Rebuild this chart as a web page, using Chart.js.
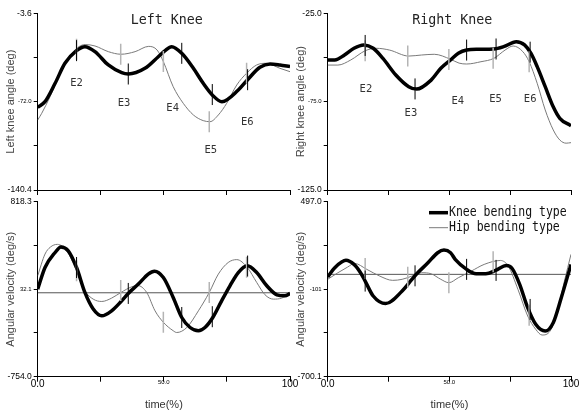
<!DOCTYPE html>
<html>
<head>
<meta charset="utf-8">
<script src="https://cdn.jsdelivr.net/npm/chart.js@4.4.1/dist/chart.umd.min.js"></script>
<style>
  html, body { margin: 0; padding: 0; background: #fff; }
  #wrap { position: relative; width: 583px; height: 412px; }
  #wrap canvas { position: absolute; left: 0; top: 0; }
</style>
</head>
<body>
<div id="wrap">
  <canvas id="lk" width="583" height="412"></canvas>
  <canvas id="rk" width="583" height="412"></canvas>
  <canvas id="lv" width="583" height="412"></canvas>
  <canvas id="rv" width="583" height="412"></canvas>
</div>
<script>
// axis ticks
const timeTicks = [0, 25, 50, 75, 100]
const timeTickLabels = ['0.0', '', '50.0', '', '100']

const leftAngleTicks = [-140.4, -106.2, -72.0, -37.8, -3.6]
const leftAngleLabels = ['-140.4', '', '-72.0', '', '-3.6']
const rightAngleTicks = [-125, -100, -75, -50, -25]
const rightAngleLabels = ['-125.0', '', '-75.0', '', '-25.0']
const leftVelTicks = [-754.0, -360.9, 32.1, 425.2, 818.3]
const leftVelLabels = ['-754.0', '', '32.1', '', '818.3']
const rightVelTicks = [-700.1, -400.8, -101.5, 197.7, 497.0]
const rightVelLabels = ['-700.1', '', '-101', '', '497.0']

const seriesNames = ['Knee bending type', 'Hip bending type']

// events
const eventNames = ['E2', 'E3', 'E4', 'E5', 'E6']
const kneeEventTimes = [15.4, 35.9, 57.1, 69.2, 83.2]
const hipEventTimes = [15.4, 32.9, 49.8, 68.0, 82.8]

// left knee angle
const lkKneeT = [0, 2.9, 6.9, 10.8, 15.4, 18.7, 22.7, 28, 33.3, 35.9, 42.5, 47.8, 50.5, 53.1, 57.1, 61.7, 65.6, 69.2, 73, 79.5, 83.2, 88.1, 92.1, 96, 100]
const lkKneeV = [-76.4, -72.0, -57.8, -42.3, -32.5, -29.4, -33.3, -43.6, -49.6, -50.6, -46.2, -37.2, -32.5, -29.4, -34.6, -46.2, -57.8, -66.8, -72.0, -63.0, -55.0, -45.4, -42.8, -43.6, -44.9]
const lkHipT = [0, 1.6, 4.9, 9.5, 14.1, 18.8, 22.7, 28, 33, 38.6, 44, 47.3, 49.8, 53.7, 57.7, 61.7, 65.6, 68.3, 71.6, 74.9, 78.9, 82.8, 86.8, 90.8, 96, 100]
const lkHipV = [-86.2, -81.0, -68.1, -47.5, -33.3, -27.8, -28.9, -33.3, -35.3, -33.3, -29.2, -32.0, -41.0, -60.4, -73.3, -82.3, -86.7, -87.5, -82.3, -73.3, -59.1, -50.0, -43.6, -42.3, -46.2, -48.8]
const lkKneeMarks = [-32.5, -50.6, -34.6, -66.5, -55.0]
const lkHipMarks = [-31.5, -35.3, -41.0, -87.5, -50.0]
const lkLabelT = [15.4, 34.2, 53.5, 68.6, 83.1]
const lkLabelV = [-57.8, -73.3, -77.1, -109.4, -88.0]

// right knee angle
const rkKneeT = [0, 2.9, 6.9, 10.8, 14.8, 18.7, 22.7, 28, 33.3, 36.6, 42.5, 46.5, 50.5, 53.7, 57.1, 61.7, 68.3, 72.3, 77.5, 80.9, 83.5, 86.1, 89.4, 92.7, 95.4, 100]
const rkKneeV = [-51.4, -51.4, -48.6, -44.8, -42.9, -44.8, -50.5, -59.9, -66.5, -67.9, -62.8, -56.1, -51.4, -47.6, -45.8, -45.4, -45.2, -43.9, -41.1, -42.9, -47.6, -55.2, -66.5, -77.9, -84.4, -88.6]
const rkHipT = [0, 4.2, 9.5, 15.4, 20, 25.4, 33.3, 38.6, 43.8, 50.5, 54, 57.1, 63, 68.3, 72.9, 76.2, 80.2, 82.8, 86.1, 89.4, 92.7, 95.4, 98, 100]
const rkHipV = [-54.3, -54.3, -51.4, -46.2, -44.8, -45.8, -49.2, -48.6, -48.2, -51.0, -53.2, -53.7, -52.4, -50.5, -45.8, -43.5, -46.7, -52.4, -64.6, -79.7, -91.0, -96.7, -98.5, -98.2]
const rkKneeMarks = [-43.2, -67.8, -45.8, -45.2, -47.0]
const rkHipMarks = [-46.2, -49.2, -51.2, -50.5, -52.4]
const rkLabelT = [15.7, 34.2, 53.5, 69.0, 83.2]
const rkLabelV = [-68.0, -81.3, -74.5, -73.7, -73.7]

// left angular velocity
const lvKneeT = [0, 2.9, 6.9, 9.2, 12.1, 15.4, 18.7, 22, 25.4, 29.3, 33.3, 35.9, 39.9, 43.8, 46.3, 49.8, 53.7, 57.1, 60.4, 63.7, 66.3, 69.4, 72.9, 76.2, 79.5, 83.1, 86.8, 90.8, 94.8, 98, 100]
const lvKneeV = [33, 227, 362, 412, 377, 227, 3, -146, -207, -162, -72, -6, 78, 168, 194, 137, -42, -222, -312, -341, -312, -222, -72, 63, 182, 243, 182, 63, -18, -27, -6]
const lvHipT = [0, 2.9, 5, 7.8, 11.5, 15.4, 18.7, 22, 25.4, 29.3, 33, 37.3, 39.6, 43.2, 46.5, 49.8, 53.7, 55.1, 59.1, 63.7, 68, 71.6, 75.5, 78.9, 83.1, 86.8, 90.1, 93.4, 96.7, 100]
const lvHipV = [153, 348, 410, 435, 377, 198, 18, -57, -78, -48, 3, 54, 65, 3, -162, -265, -341, -357, -312, -162, 3, 168, 272, 298, 227, 93, -18, -57, -48, -6]
const lvKneeMarks = [227, -6, -222, -215, 240]
const lvHipMarks = [198, 20, -265, 3, 230]

// right angular velocity
const rvKneeT = [0, 2.9, 7.5, 10.8, 13.5, 15.4, 18.7, 23.8, 30.6, 34.6, 36.6, 41.2, 45.2, 47.8, 50.5, 52.4, 57.1, 61, 65, 69, 73.5, 75.8, 78.9, 82.2, 85.5, 89.4, 92.7, 96, 100]
const rvKneeV = [-18, 45, 96, 68, 11, -46, -148, -200, -114, -34, 4, 79, 148, 166, 148, 103, 34, 4, 4, 27, 60, 40, -68, -228, -342, -388, -331, -160, 68]
const rvHipT = [0, 4.2, 8.2, 11, 16.1, 21.4, 26.7, 30.6, 34.6, 38.6, 42.5, 46.5, 49.8, 53.7, 59.1, 64.3, 71, 74.2, 78.2, 82.2, 85.5, 88.1, 91.4, 94.7, 97.3, 100]
const rvHipV = [-34, 11, 50, 75, 34, -12, -41, -34, -12, 11, 4, -34, -57, -23, 23, 68, 95, 57, -103, -285, -376, -415, -388, -228, -46, 137]
const rvKneeMarks = [-46, -10, 34, 27, -240]
const rvHipMarks = [40, -20, -57, 86, -280]

// zero reference line for velocity panels
const zeroLineT = [0, 100]
const zeroLineV = [0, 0]

const pts = (xs, ys) => xs.map((x, i) => ({ x, y: ys[i] }))

// draws panel title, event labels and legend inside the plot area
const overlayPlugin = {
  id: 'overlay',
  afterDatasetsDraw(chart, args, opts) {
    const { ctx, chartArea, scales } = chart
    ctx.save()
    ctx.fillStyle = '#222'
    if (opts.title) {
      ctx.font = '13.3px "DejaVu Sans Mono"'
      ctx.textAlign = 'center'
      ctx.textBaseline = 'middle'
      ctx.fillText(opts.title, (chartArea.left + chartArea.right) / 2 + 3, chartArea.top + 7)
    }
    if (opts.labelT) {
      ctx.font = '10.5px "DejaVu Sans Mono"'
      ctx.textAlign = 'center'
      ctx.textBaseline = 'middle'
      ctx.fillStyle = '#333'
      opts.labelT.forEach((t, i) => {
        ctx.fillText(eventNames[i], scales.x.getPixelForValue(t), scales.y.getPixelForValue(opts.labelV[i]))
      })
    }
    if (opts.legend) {
      const x0 = chartArea.right - 142
      chart.data.datasets.filter(d => d.inLegend).forEach((d, i) => {
        const y = chartArea.top + 11 + i * 15
        ctx.strokeStyle = d.borderColor
        ctx.lineWidth = d.borderWidth
        ctx.beginPath()
        ctx.moveTo(x0, y)
        ctx.lineTo(x0 + 19, y)
        ctx.stroke()
        ctx.save()
        ctx.translate(x0 + 20, y)
        ctx.scale(1, 1.25)
        ctx.fillStyle = '#111'
        ctx.font = '11.5px "DejaVu Sans Mono"'
        ctx.textAlign = 'left'
        ctx.textBaseline = 'middle'
        ctx.fillText(d.label, 0, 0)
        ctx.restore()
      })
    }
    ctx.restore()
  },
}

function makePanel(id, p) {
  const datasets = [
    {
      label: 'knee events',
      data: pts(kneeEventTimes, p.kneeMarks),
      showLine: false,
      pointStyle: 'line',
      pointRotation: 90,
      pointRadius: 10.5,
      pointBorderWidth: 1,
      pointBorderColor: '#000',
      borderColor: '#000',
    },
    {
      label: 'hip events',
      data: pts(hipEventTimes, p.hipMarks),
      showLine: false,
      pointStyle: 'line',
      pointRotation: 90,
      pointRadius: 10.5,
      pointBorderWidth: 1.5,
      pointBorderColor: '#b4b4b4',
      borderColor: '#b4b4b4',
    },
    {
      label: seriesNames[0],
      inLegend: true,
      data: pts(p.kneeT, p.kneeV),
      borderColor: '#000',
      borderWidth: 3.5,
      pointRadius: 0,
      cubicInterpolationMode: 'monotone',
    },
    {
      label: seriesNames[1],
      inLegend: true,
      data: pts(p.hipT, p.hipV),
      borderColor: '#7a7a7a',
      borderWidth: 1,
      pointRadius: 0,
      cubicInterpolationMode: 'monotone',
    },
  ]
  if (p.zero) {
    datasets.push({
      label: 'zero',
      data: pts(zeroLineT, zeroLineV),
      borderColor: '#555',
      borderWidth: 1,
      pointRadius: 0,
    })
  }

  const bottomRow = !p.top
  return new Chart(document.getElementById(id), {
    type: 'line',
    data: { datasets },
    plugins: [overlayPlugin],
    options: {
      responsive: false,
      animation: false,
      devicePixelRatio: 1,
      layout: {
        padding: {
          left: p.right ? 290 : 0,
          right: p.right ? 3 : 293,
          top: p.top ? 13.3 : 201.7,
          bottom: p.top ? 214 : 0,
        },
      },
      plugins: {
        legend: { display: false },
        title: { display: false },
        tooltip: { enabled: false },
        overlay: {
          title: p.title,
          labelT: p.labelT,
          labelV: p.labelV,
          legend: p.legend,
        },
      },
      scales: {
        x: {
          type: 'linear',
          min: 0,
          max: 100,
          afterBuildTicks: (s) => {
            s.ticks = timeTicks.map((v) => ({ value: v }))
          },
          afterFit: (s) => {
            s.height = bottomRow ? 35.3 : 8
            s.paddingLeft = 0
            s.paddingRight = 0
          },
          ticks: {
            display: bottomRow,
            autoSkip: false,
            maxRotation: 0,
            padding: -2,
            color: '#000',
            callback: (v, i) => timeTickLabels[i],
            font: (c) => ({ family: 'Liberation Sans', size: c.index === 2 ? 6 : 10, lineHeight: 1 }),
          },
          grid: { drawOnChartArea: false, drawTicks: true, tickLength: 5, color: '#000' },
          border: { display: true, color: '#000', width: 1 },
          title: {
            display: bottomRow,
            text: 'time(%)',
            color: '#333',
            font: { family: 'Liberation Sans', size: 11 },
            padding: 0,
          },
        },
        y: {
          type: 'linear',
          min: p.ticks[0],
          max: p.ticks[p.ticks.length - 1],
          afterBuildTicks: (s) => {
            s.ticks = p.ticks.map((v) => ({ value: v }))
          },
          afterFit: (s) => {
            s.width = 37.7
            s.paddingTop = 0
            s.paddingBottom = 0
          },
          ticks: {
            padding: 2,
            color: '#000',
            callback: (v, i) => p.tickLabels[i],
            font: (c) => ({ family: 'Liberation Sans', size: c.index === 2 ? 6 : 8.5, lineHeight: 1 }),
          },
          grid: { drawOnChartArea: false, drawTicks: true, tickLength: 4, color: '#000' },
          border: { display: true, color: '#000', width: 1 },
          title: {
            display: true,
            text: p.yTitle,
            color: '#444',
            font: { family: 'Liberation Sans', size: 11 },
            padding: { top: 4, bottom: 0 },
          },
        },
      },
    },
  })
}

makePanel('lk', {
  top: true, right: false, title: 'Left Knee', yTitle: 'Left knee angle (deg)',
  ticks: leftAngleTicks, tickLabels: leftAngleLabels,
  kneeT: lkKneeT, kneeV: lkKneeV, hipT: lkHipT, hipV: lkHipV,
  kneeMarks: lkKneeMarks, hipMarks: lkHipMarks, labelT: lkLabelT, labelV: lkLabelV,
})
makePanel('rk', {
  top: true, right: true, title: 'Right Knee', yTitle: 'Right knee angle (deg)',
  ticks: rightAngleTicks, tickLabels: rightAngleLabels,
  kneeT: rkKneeT, kneeV: rkKneeV, hipT: rkHipT, hipV: rkHipV,
  kneeMarks: rkKneeMarks, hipMarks: rkHipMarks, labelT: rkLabelT, labelV: rkLabelV,
})
makePanel('lv', {
  top: false, right: false, yTitle: 'Angular velocity (deg/s)', zero: true,
  ticks: leftVelTicks, tickLabels: leftVelLabels,
  kneeT: lvKneeT, kneeV: lvKneeV, hipT: lvHipT, hipV: lvHipV,
  kneeMarks: lvKneeMarks, hipMarks: lvHipMarks,
})
makePanel('rv', {
  top: false, right: true, yTitle: 'Angular velocity (deg/s)', zero: true, legend: true,
  ticks: rightVelTicks, tickLabels: rightVelLabels,
  kneeT: rvKneeT, kneeV: rvKneeV, hipT: rvHipT, hipV: rvHipV,
  kneeMarks: rvKneeMarks, hipMarks: rvHipMarks,
})
</script>
</body>
</html>
